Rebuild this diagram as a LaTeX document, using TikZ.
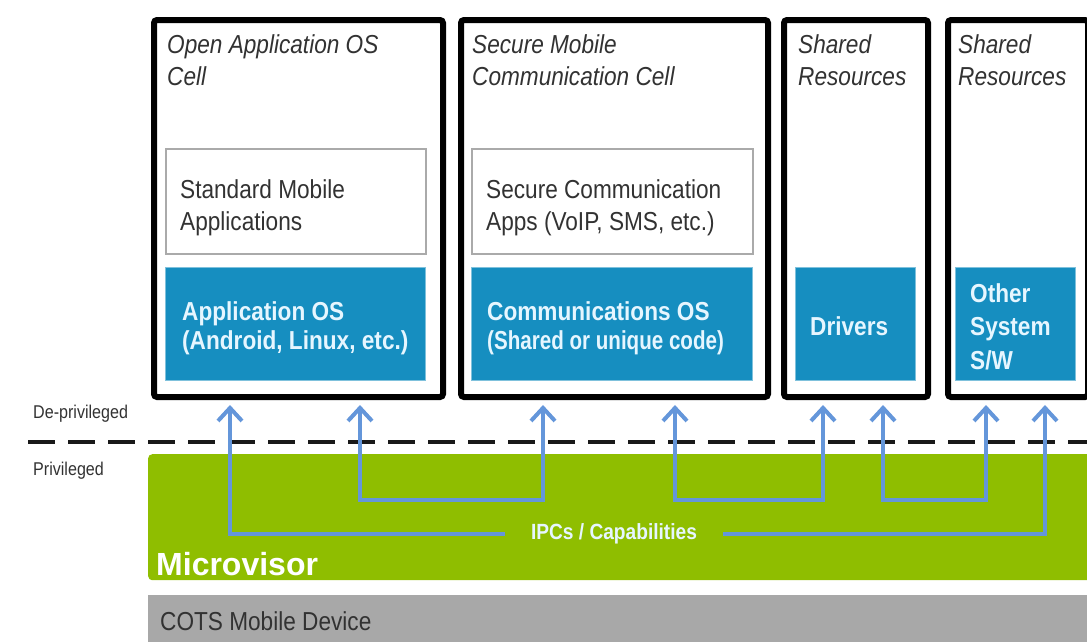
\documentclass[tikz,border=0pt]{standalone}
\usepackage{fontspec}
\usepackage{graphicx}
\setmainfont{Liberation Sans}[FakeStretch=0.87]
\newfontfamily\mvfont{Liberation Sans}[FakeStretch=1.0]
\usetikzlibrary{arrows.meta}
\definecolor{cellblue}{RGB}{22,142,192}
\definecolor{ipcblue}{RGB}{100,150,218}
\definecolor{mvgreen}{RGB}{143,190,0}
\definecolor{devgray}{RGB}{168,168,168}
\definecolor{txtgray}{RGB}{50,50,50}
\definecolor{paleblue}{RGB}{230,246,255}
\definecolor{boxgray}{RGB}{170,170,170}

\begin{document}
\begin{tikzpicture}[x=1pt,y=-1pt,
  cellbox/.style={draw=black, line width=6pt, rounded corners=3pt, fill=white,
    inner sep=0pt, anchor=north west},
  appbox/.style={draw=boxgray, line width=2pt, fill=white, inner sep=0pt, anchor=north west},
  osbox/.style={fill=cellblue, draw=cellblue!55!white, line width=1pt, inner sep=0pt, anchor=north west},
  celltitle/.style={anchor=base west, inner sep=0pt, text=txtgray,
    font=\fontsize{26}{32}\selectfont\itshape},
  apptext/.style={anchor=base west, inner sep=0pt, text=txtgray,
    font=\fontsize{26}{32}\selectfont},
  ostext/.style={anchor=base west, inner sep=0pt, text=paleblue,
    font=\fontsize{26}{30}\selectfont\bfseries},
  sidelabel/.style={anchor=base west, inner sep=0pt, text=txtgray,
    font=\fontsize{18.5}{22}\selectfont},
  ipc/.style={draw=ipcblue, line width=4pt},
  ipctip/.style={-{Straight Barb[length=13pt,width=24pt]}, shorten >=5pt},
  ipctips/.style={{Straight Barb[length=13pt,width=24pt]}-{Straight Barb[length=13pt,width=24pt]},
    shorten >=5pt, shorten <=5pt},
]
\useasboundingbox (0,0) rectangle (1087,641);

% ---- cells ----
\node[cellbox, minimum width=289pt, minimum height=377pt] (c1) at (151,17) {};
\node[cellbox, minimum width=307pt, minimum height=377pt] (c2) at (458,17) {};
\node[cellbox, minimum width=144pt, minimum height=377pt] (c3) at (781,17) {};
\node[cellbox, minimum width=140pt, minimum height=377pt] (c4) at (945,17) {};

% cell titles
\node[celltitle] (t1a) at (167,53) {Open Application OS};
\node[celltitle] (t1b) at (167,85) {Cell};
\node[celltitle] (t2a) at (472,53) {Secure Mobile};
\node[celltitle] (t2b) at (472,85) {Communication Cell};
\node[celltitle] (t3a) at (798,53) {Shared};
\node[celltitle] (t3b) at (798,85) {Resources};
\node[celltitle] (t4a) at (958,53) {Shared};
\node[celltitle] (t4b) at (958,85) {Resources};

% application layers
\node[appbox, minimum width=260pt, minimum height=105pt] (app1) at (165,148) {};
\node[appbox, minimum width=281pt, minimum height=105pt] (app2) at (471,148) {};
\node[apptext] (a1a) at (180,198) {Standard Mobile};
\node[apptext] (a1b) at (180,230) {Applications};
\node[apptext] (a2a) at (486,198) {Secure Communication};
\node[apptext] (a2b) at (486,230) {Apps (VoIP, SMS, etc.)};

% OS / system layers
\node[osbox, minimum width=260pt, minimum height=113pt] (os1) at (165,267) {};
\node[osbox, minimum width=281pt, minimum height=113pt] (os2) at (471,267) {};
\node[osbox, minimum width=120pt, minimum height=113pt] (os3) at (795,267) {};
\node[osbox, minimum width=120pt, minimum height=113pt] (os4) at (955,267) {};
\node[ostext] (o1a) at (182,320) {Application OS};
\node[ostext] (o1b) at (182,349) {(Android, Linux, etc.)};
\node[ostext] (o2a) at (487,320) {Communications OS};
\node[ostext] (o2b) at (487,349) {\scalebox{0.91}[1]{(Shared or unique code)}};
\node[ostext] (o3a) at (810,335) {Drivers};
\node[ostext] (o4a) at (970,302) {Other};
\node[ostext] (o4b) at (970,335) {System};
\node[ostext] (o4c) at (970,369) {S/W};

% ---- privilege boundary ----
\node[sidelabel] (dep) at (33,418) {De-privileged};
\node[sidelabel] (pri) at (33,475) {Privileged};
\draw[black!90, line width=3.5pt, dash pattern=on 27pt off 13pt] (28,442) -- (1090,442);

% ---- microvisor and device ----
\node[fill=mvgreen, rounded corners=4pt, inner sep=0pt, anchor=north west,
  minimum width=950pt, minimum height=126pt] (mv) at (148,454) {};
\node[anchor=base west, inner sep=0pt, text=white,
  font=\mvfont\fontsize{32}{36}\selectfont\bfseries] (mvl) at (156,575) {Microvisor};
\node[fill=devgray, inner sep=0pt, anchor=north west,
  minimum width=950pt, minimum height=60pt] (dev) at (148,595) {};
\node[apptext] (devl) at (160,630) {COTS Mobile Device};

% ---- IPC channels ----
\node[inner sep=0pt, minimum width=218pt, minimum height=24pt, text=paleblue,
  font=\fontsize{22}{26}\selectfont\bfseries] (ipcl) at (614,534) {IPCs / Capabilities};

\coordinate (x1) at (230,534);
\coordinate (x2) at (360,500);
\coordinate (x3) at (543,500);
\coordinate (x4) at (675,500);
\coordinate (x5) at (823,500);
\coordinate (x6) at (883,500);
\coordinate (x7) at (986,500);
\coordinate (x8) at (1045,534);

\draw[ipc, ipctip] (ipcl.west) -| (x1 |- c1.south);
\draw[ipc, ipctip] (ipcl.east) -| (x8 |- c4.south);
\draw[ipc, ipctips] (x2 |- c1.south) -- (x2) -- (x3) -- (x3 |- c2.south);
\draw[ipc, ipctips] (x4 |- c2.south) -- (x4) -- (x5) -- (x5 |- c3.south);
\draw[ipc, ipctips] (x6 |- c3.south) -- (x6) -- (x7) -- (x7 |- c4.south);
\end{tikzpicture}
\end{document}
